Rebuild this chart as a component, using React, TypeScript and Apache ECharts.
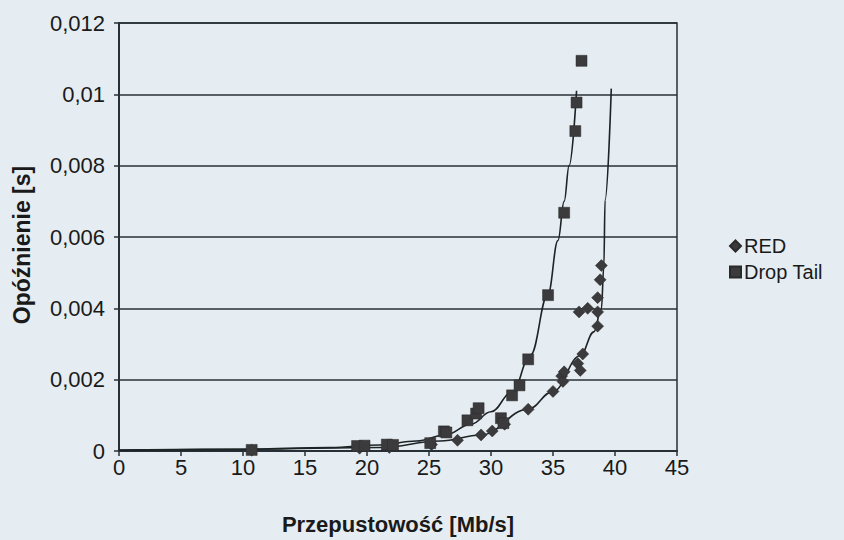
import React, { useEffect, useRef } from "react";
import * as echarts from "echarts";

const xTicks = { min: 0, max: 45, interval: 5 };
const yTicks = { min: 0, max: 0.012, interval: 0.002 };

const seriesNames = ["RED", "Drop Tail"];

const redPoints: [number, number][] = [
  [10.7, 0.00002], [19.4, 0.00008], [21.8, 0.0001], [25.2, 0.00018], [27.3, 0.0003],
  [29.2, 0.00045], [30.1, 0.00056], [31.1, 0.00075], [33.0, 0.00117], [35.0, 0.00167],
  [35.7, 0.0021], [35.8, 0.00195], [35.9, 0.00222], [37.0, 0.00245], [37.2, 0.00226],
  [37.4, 0.00272], [37.1, 0.0039], [37.8, 0.004], [38.6, 0.0039], [38.6, 0.0035],
  [38.6, 0.0043], [38.8, 0.0048], [38.9, 0.0052],
];

const dropTailPoints: [number, number][] = [
  [10.7, 0.00003], [19.2, 0.00014], [19.8, 0.00015], [21.6, 0.00018], [22.1, 0.00017],
  [25.1, 0.00022], [26.2, 0.00055], [26.4, 0.00052], [28.1, 0.00086], [28.8, 0.00105],
  [29.0, 0.0012], [30.8, 0.00092], [31.0, 0.00078], [31.7, 0.00156], [32.3, 0.00184],
  [33.0, 0.00257], [34.6, 0.00437], [35.9, 0.00668], [36.8, 0.00897], [36.9, 0.00977],
  [37.3, 0.01094],
];

const redCurve: [number, number][] = [
  [0, 0.00002], [10.6, 0.00005], [21.1, 0.0001], [25.9, 0.00028], [29.2, 0.00045],
  [33.0, 0.00117], [35.0, 0.00167], [37.2, 0.00267], [38.3, 0.00334], [38.9, 0.00398],
  [39.1, 0.00518], [39.2, 0.00704], [39.7, 0.01016],
];

const dropTailCurve: [number, number][] = [
  [0, 0.00003], [10, 0.00005], [17, 0.0001], [21, 0.00017], [24, 0.00028],
  [26.3, 0.00045], [28.4, 0.00075], [30, 0.0011], [31.7, 0.00165], [33.2, 0.0027],
  [34.6, 0.0044], [35.4, 0.0059], [35.9, 0.007], [36.3, 0.008], [36.9, 0.0101],
];

const FONT = "'Liberation Sans', Arial, sans-serif";
const DARK = "#263036";
const MARK = "#3b3b3d";
const TXT = "#1a1a1a";

export default function App() {
  const ref = useRef<HTMLDivElement>(null);
  useEffect(() => {
    if (!ref.current) return;
    const chart = echarts.init(ref.current, null, { renderer: "svg" });
    chart.setOption({
      animation: false,
      backgroundColor: "#e6edf2",
      textStyle: { fontFamily: FONT },
      grid: {
        left: 119, top: 23, width: 558, height: 430,
        show: true, borderColor: DARK, borderWidth: 1.5, backgroundColor: "transparent",
      },
      legend: {
        data: [
          { name: seriesNames[0], icon: "diamond" },
          { name: seriesNames[1], icon: "rect" },
        ],
        orient: "vertical",
        left: 724, top: 231,
        itemWidth: 11, itemHeight: 11, itemGap: 6,
        textStyle: { fontFamily: FONT, fontSize: 20, color: TXT, padding: [0, 0, 0, -2] },
      },
      xAxis: {
        type: "value",
        min: xTicks.min, max: xTicks.max, interval: xTicks.interval,
        name: "Przepustowość [Mb/s]",
        nameLocation: "middle", nameGap: 62,
        nameTextStyle: { fontFamily: FONT, fontSize: 22, fontWeight: "bold", color: TXT },
        axisLine: { show: true, lineStyle: { color: DARK, width: 2 } },
        axisTick: { show: true, length: 5, lineStyle: { color: DARK, width: 1.5 } },
        axisLabel: { fontFamily: FONT, fontSize: 22, color: TXT, margin: 5 },
        splitLine: { show: false },
      },
      yAxis: {
        type: "value",
        min: yTicks.min, max: yTicks.max, interval: yTicks.interval,
        name: "Opóźnienie [s]",
        nameLocation: "middle", nameGap: 86,
        nameTextStyle: { fontFamily: FONT, fontSize: 23, fontWeight: "bold", color: TXT, padding: [0, 0, 0, -16] },
        axisLine: { show: true, lineStyle: { color: DARK, width: 2 } },
        axisTick: { show: true, length: 5, lineStyle: { color: DARK, width: 1.5 } },
        axisLabel: {
          fontFamily: FONT, fontSize: 22, color: TXT, margin: 14,
          formatter: (v: number) => String(+v.toFixed(3)).replace(".", ","),
        },
        splitLine: { show: true, lineStyle: { color: DARK, width: 1.5 } },
      },
      series: [
        {
          name: "RED curve", type: "line", data: redCurve, smooth: 0.4, smoothMonotone: "x",
          showSymbol: false, symbol: "none", lineStyle: { color: "#1e2326", width: 1.6 },
          silent: true, z: 2,
        },
        {
          name: "Drop Tail curve", type: "line", data: dropTailCurve, smooth: 0.4, smoothMonotone: "x",
          showSymbol: false, symbol: "none", lineStyle: { color: "#1e2326", width: 1.6 },
          silent: true, z: 2,
        },
        {
          name: seriesNames[0], type: "scatter", data: redPoints, symbol: "diamond", symbolSize: 12,
          itemStyle: { color: MARK, borderColor: "#2a2a2a", borderWidth: 0.5, opacity: 1 }, z: 3,
        },
        {
          name: seriesNames[1], type: "scatter", data: dropTailPoints, symbol: "rect", symbolSize: 11,
          itemStyle: { color: MARK, borderColor: "#2a2a2a", borderWidth: 0.5, opacity: 1 }, z: 3,
        },
      ],
    });
    return () => chart.dispose();
  }, []);
  return <div ref={ref} style={{ width: 844, height: 540, position: "absolute", left: 0, top: 0 }} />;
}
